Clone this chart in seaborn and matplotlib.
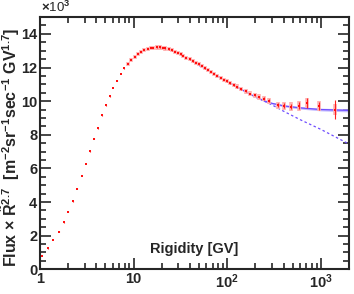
import numpy as np
import pandas as pd
import matplotlib
matplotlib.use("Agg")
import matplotlib.pyplot as plt
import seaborn as sns
from matplotlib.ticker import FixedLocator, NullFormatter, MultipleLocator, LogLocator

# proton flux x R^2.7, in units of 10^3
rigidity = [1.06, 1.23, 1.39, 1.58, 1.79, 1.99, 2.23, 2.50, 2.78, 3.10, 3.42, 3.77,
            4.16, 4.59, 5.06, 5.54, 6.06, 6.64, 7.27, 7.95, 8.70, 9.43, 10.3, 11.1,
            12.1, 13.0, 14.1, 15.2, 16.3, 17.6, 18.9, 20.4, 21.9, 23.6, 25.4, 27.4,
            29.5, 31.7, 34.1, 36.7, 39.6, 42.6, 45.9, 49.4, 53.2, 57.3, 61.6, 66.4,
            71.9, 78.2, 84.9, 92.1, 100, 108, 118, 128, 141, 158, 176, 196, 219,
            247, 282, 350, 408, 481, 585, 718, 964, 1419]
flux = [0.79, 1.25, 1.74, 2.24, 2.80, 3.43, 4.05, 4.80, 5.55, 6.27, 7.02, 7.77,
        8.39, 9.16, 9.76, 10.29, 10.79, 11.22, 11.62, 11.96, 12.21, 12.45, 12.65, 12.83,
        12.95, 13.05, 13.11, 13.15, 13.17, 13.19, 13.19, 13.17, 13.13, 13.09, 13.03, 12.95,
        12.87, 12.79, 12.69, 12.59, 12.49, 12.37, 12.27, 12.18, 12.08, 11.96, 11.86, 11.76,
        11.62, 11.50, 11.38, 11.28, 11.18, 11.06, 10.95, 10.85, 10.72, 10.58, 10.45, 10.35, 10.25,
        10.15, 10.02, 9.76, 9.72, 9.68, 9.72, 9.88, 9.70, 9.50]
stat_err = [0.02] * 52 + [0.03, 0.03, 0.03, 0.04, 0.04, 0.05, 0.05, 0.06, 0.07,
                          0.08, 0.09, 0.12, 0.14, 0.17, 0.2, 0.28, 0.25, 0.55]
sys_err = [0.0] * 20 + [0.12] * 32 + [0.13, 0.13, 0.13, 0.14, 0.14, 0.15, 0.15, 0.16, 0.16,
                                      0.17, 0.18, 0.2, 0.22, 0.25, 0.28, 0.3, 0.3, 0.3]

# broken power-law fit and its single power-law extrapolation
fit_r = [45, 60, 80, 100, 150, 200, 250, 300, 400, 600, 1000, 2000]
fit_y = [12.27, 11.88, 11.48, 11.18, 10.62, 10.25, 10.02, 9.87, 9.72, 9.60, 9.50, 9.45]
fit_band = [0.03, 0.03, 0.03, 0.03, 0.04, 0.04, 0.05, 0.05, 0.06, 0.07, 0.08, 0.09]
ext_r = [200, 300, 400, 600, 1000, 2000]
ext_y = [10.25, 9.78, 9.40, 8.90, 8.32, 7.45]

df = pd.DataFrame({"R": rigidity, "F": flux, "stat": stat_err, "sys": sys_err})
fit = pd.DataFrame({"R": fit_r, "F": fit_y, "band": fit_band})
ext = pd.DataFrame({"R": ext_r, "F": ext_y})

sns.set_style("ticks")
plt.rcParams["font.family"] = ["Liberation Sans", "DejaVu Sans"]
plt.rcParams["mathtext.fontset"] = "custom"
plt.rcParams["mathtext.rm"] = "Liberation Sans:bold"
plt.rcParams["mathtext.bf"] = "Liberation Sans:bold"
plt.rcParams["mathtext.it"] = "Liberation Sans:bold"

fig = plt.figure(figsize=(3.54, 2.94), dpi=100)
ax = fig.add_axes([0.113, 0.084, 0.873, 0.858])

blue = "#6f4dff"
ax.fill_between(fit["R"], fit["F"] - fit["band"], fit["F"] + fit["band"],
                color="#c4bcff", lw=0, zorder=1)
sns.lineplot(data=fit, x="R", y="F", ax=ax, color=blue, lw=0.9, zorder=2)
sns.lineplot(data=ext, x="R", y="F", ax=ax, color=blue, lw=0.9, ls=(0, (2, 2)), zorder=2)

ax.errorbar(df["R"], df["F"], yerr=df["sys"], fmt="none", ecolor="#ffb3b3",
            elinewidth=2.6, zorder=3)
ax.errorbar(df["R"], df["F"], yerr=df["stat"], fmt="none", ecolor="#ff2020",
            elinewidth=0.8, zorder=4)
sns.scatterplot(data=df, x="R", y="F", ax=ax, marker="s", s=3, color="#ff1010",
                linewidth=0, zorder=5)

ax.set_xscale("log")
ax.set_xlim(1, 2000)
ax.set_ylim(0, 15)
ax.xaxis.set_major_locator(FixedLocator([1, 10, 100, 1000]))
ax.set_xticklabels(["1", "10", r"$\mathbf{10^{2}}$", r"$\mathbf{10^{3}}$"])
ax.xaxis.set_minor_locator(LogLocator(base=10, subs=np.arange(2, 10)))
ax.xaxis.set_minor_formatter(NullFormatter())
ax.yaxis.set_major_locator(MultipleLocator(2))
ax.yaxis.set_minor_locator(MultipleLocator(0.5))
ax.set_yticks(range(0, 15, 2))
ax.set_yticklabels([str(v) for v in range(0, 15, 2)])

ax.tick_params(which="both", direction="in", top=True, right=True, width=1.2,
               labelsize=10.5, pad=2)
ax.tick_params(which="major", length=8)
ax.tick_params(which="minor", length=4)
for lab in ax.get_xticklabels() + ax.get_yticklabels():
    lab.set_fontweight("bold")
for sp in ax.spines.values():
    sp.set_linewidth(1.5)

ax.set_xlabel("")
ax.set_ylabel("")
fig.text(0.029, 0.5,
         r"Flux $\times$ $\tilde{\mathrm{R}}^{2.7}$  [m$^{-2}$sr$^{-1}$sec$^{-1}$ GV$^{1.7}$]",
         rotation=90, ha="center", va="center", fontsize=11.5, fontweight="bold")
ax.text(0.5, 0.08, "Rigidity [GV]", transform=ax.transAxes, ha="center", va="center",
        fontsize=10.5, fontweight="bold")
fig.text(0.115, 0.975, r"$\times$10$^{3}$", ha="left", va="center", fontsize=9.5)

fig.savefig("out.png", dpi=100)
